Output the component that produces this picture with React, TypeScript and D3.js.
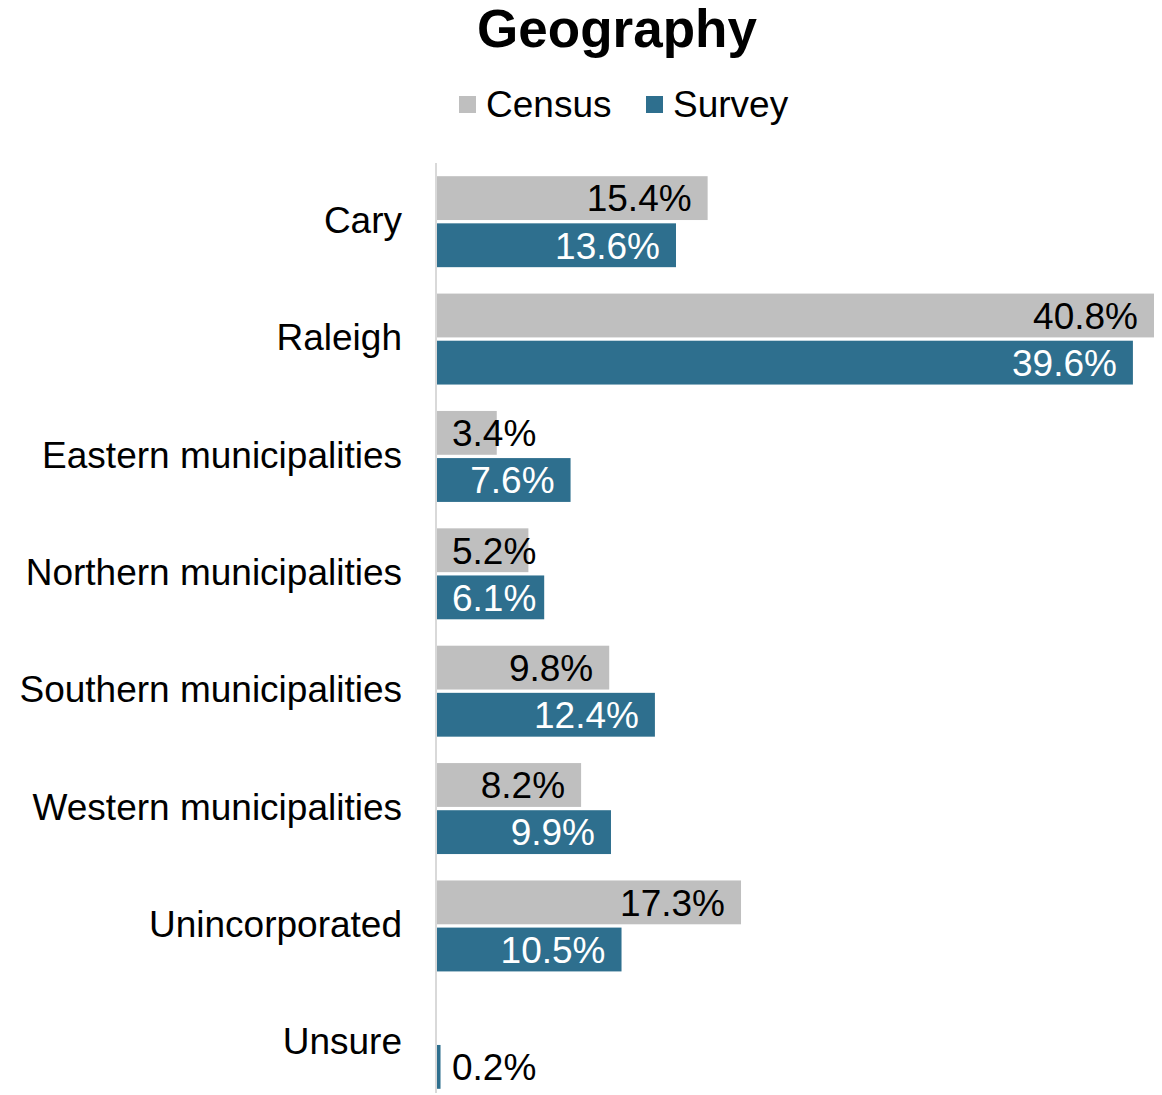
import React, { useEffect, useRef } from "react";
import * as d3 from "d3";

const categories = [
  "Cary",
  "Raleigh",
  "Eastern municipalities",
  "Northern municipalities",
  "Southern municipalities",
  "Western municipalities",
  "Unincorporated",
  "Unsure",
];
const census: (number | null)[] = [15.4, 40.8, 3.4, 5.2, 9.8, 8.2, 17.3, null];
const survey: (number | null)[] = [13.6, 39.6, 7.6, 6.1, 12.4, 9.9, 10.5, 0.2];
const seriesNames = ["Census", "Survey"];
const seriesColors = ["#BFBFBF", "#2E6F8E"];

const W = 1162;
const H = 1095;
const FONT = "Arial, 'Liberation Sans', Helvetica, sans-serif";

const App: React.FC = () => {
  const svgRef = useRef<SVGSVGElement>(null);

  useEffect(() => {
    const svg = d3.select(svgRef.current);
    svg.selectAll("*").remove();

    const x0 = 437;
    const x = d3
      .scaleLinear()
      .domain([0, d3.max([...census, ...survey], (d) => d ?? 0)!])
      .range([x0, 1154]);

    const y = d3
      .scaleBand()
      .domain(categories)
      .range([163, 1102])
      .paddingInner(0.225)
      .paddingOuter(0.1125);

    const ySub = d3
      .scaleBand()
      .domain(seriesNames)
      .range([0, y.bandwidth()])
      .paddingInner(0.07);

    // title
    svg
      .append("text")
      .attr("x", 617)
      .attr("y", 47)
      .attr("text-anchor", "middle")
      .attr("font-family", FONT)
      .attr("font-weight", "bold")
      .attr("font-size", 53)
      .text("Geography");

    // legend
    const legendItems = [
      { name: "Census", color: seriesColors[0], x: 459 },
      { name: "Survey", color: seriesColors[1], x: 646 },
    ];
    const lg = svg.append("g");
    legendItems.forEach((it) => {
      lg.append("rect")
        .attr("x", it.x)
        .attr("y", 96)
        .attr("width", 17)
        .attr("height", 17)
        .attr("fill", it.color);
      lg.append("text")
        .attr("x", it.x + 27)
        .attr("y", 117)
        .attr("font-family", FONT)
        .attr("font-size", 37)
        .attr("fill", "#000")
        .text(it.name);
    });

    // axis line
    svg
      .append("line")
      .attr("x1", 436)
      .attr("x2", 436)
      .attr("y1", 163)
      .attr("y2", 1093)
      .attr("stroke", "#D9D9D9")
      .attr("stroke-width", 2);

    // category labels
    svg
      .append("g")
      .selectAll("text")
      .data(categories)
      .enter()
      .append("text")
      .attr("x", 402)
      .attr("y", (d) => y(d)! + y.bandwidth() / 2)
      .attr("dy", "0.3em")
      .attr("text-anchor", "end")
      .attr("font-family", FONT)
      .attr("font-size", 37)
      .attr("fill", "#000")
      .text((d) => d);

    const series = [census, survey];
    series.forEach((vals, si) => {
      const name = seriesNames[si];
      const g = svg.append("g");
      categories.forEach((c, i) => {
        const v = vals[i];
        if (v == null) return;
        const by = y(c)! + ySub(name)!;
        const bh = ySub.bandwidth();
        const end = x(v);
        g.append("rect")
          .attr("x", x0)
          .attr("y", by)
          .attr("width", Math.max(end - x0, 1.5))
          .attr("height", bh)
          .attr("fill", seriesColors[si]);

        const t = g
          .append("text")
          .attr("x", end - 16)
          .attr("y", by + bh / 2)
          .attr("dy", "0.36em")
          .attr("text-anchor", "end")
          .attr("font-family", FONT)
          .attr("font-size", 37)
          .text(`${v.toFixed(1)}%`);
        const w = (t.node() as SVGTextElement).getComputedTextLength();
        let left = end - 16 - w;
        if (left < x0 + 15) {
          t.attr("text-anchor", "start").attr("x", x0 + 15);
          left = x0 + 15;
        }
        const inside = left + w <= end;
        t.attr("fill", si === 1 && inside ? "#FFFFFF" : "#000000");
      });
    });
  }, []);

  return (
    <svg
      ref={svgRef}
      width={W}
      height={H}
      style={{ position: "absolute", left: 0, top: 0, background: "#fff" }}
    ></svg>
  );
};

export default App;
